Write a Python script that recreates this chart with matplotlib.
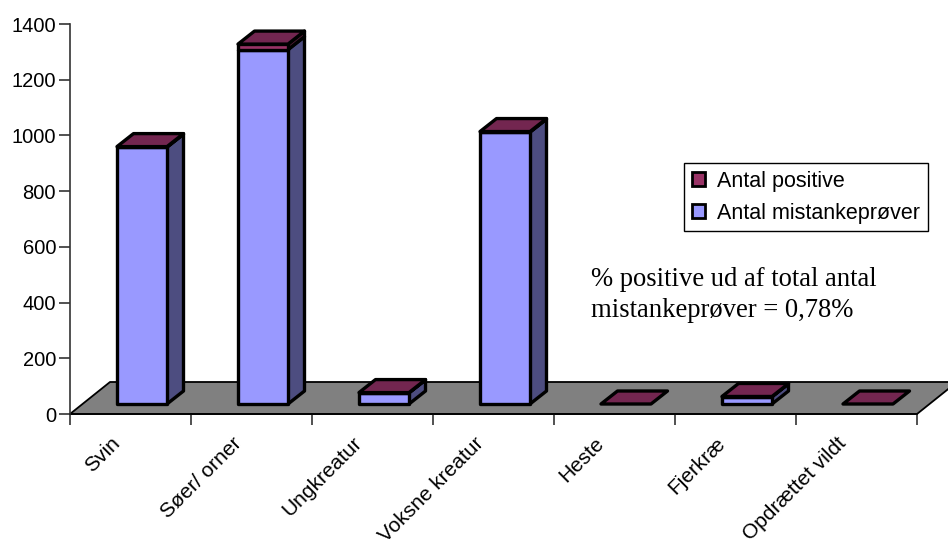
import matplotlib
matplotlib.use("Agg")
import matplotlib.pyplot as plt
from matplotlib.patches import Polygon, Patch

# Data
kategorier = ["Svin", "Søer/ orner", "Ungkreatur", "Voksne kreatur", "Heste", "Fjerkræ", "Opdrættet vildt"]
mistanke = [922, 1272, 40, 976, 0, 26, 0]
positive = [2, 20, 1, 2, 0, 1, 0]
y_ticks = [0, 200, 400, 600, 800, 1000, 1200, 1400]

W, H = 948, 539
plt.rcParams['font.family'] = ['Liberation Sans', 'DejaVu Sans']

fig = plt.figure(figsize=(W / 100, H / 100), dpi=100)
ax = fig.add_axes([70 / W, 1 - 414 / H, 847 / W, 390 / H])
ax.set_xlim(0, 7)
ax.set_ylim(0, 1400)

# pseudo-3D offsets, in data units
px_x = 7 / 847
px_y = 1400 / 390
floor_dx, floor_dy = 40 * px_x, 32 * px_y
bar_dx, bar_dy = 16.5 * px_x, 13 * px_y
bar_left = 47 * px_x
bar_w = 50 * px_x
base = 10 * px_y

LIGHT, LIGHT_SIDE = "#9999ff", "#4d4d80"
DARK, DARK_TOP, DARK_SIDE = "#993366", "#732650", "#4d1a33"


def poly(pts, color, lw=2.4, edge="black", z=3):
    ax.add_patch(Polygon(pts, closed=True, facecolor=color, edgecolor=edge, linewidth=lw,
                         joinstyle="round", clip_on=False, zorder=z))


# floor
poly([(0, 0), (7, 0), (7 + floor_dx, floor_dy), (floor_dx, floor_dy)], "#808080", lw=1.3, z=1)


def box(x0, y0, y1, front, side):
    x1 = x0 + bar_w
    poly([(x1, y0), (x1 + bar_dx, y0 + bar_dy), (x1 + bar_dx, y1 + bar_dy), (x1, y1)], side)
    poly([(x0, y0), (x1, y0), (x1, y1), (x0, y1)], front)


for i, (m, p) in enumerate(zip(mistanke, positive)):
    x0 = i + bar_left
    if m > 0:
        box(x0, base, base + m, LIGHT, LIGHT_SIDE)
    top = base + m + p
    if p > 0:
        box(x0, base + m, top, DARK, DARK_SIDE)
    poly([(x0, top), (x0 + bar_w, top), (x0 + bar_w + bar_dx, top + bar_dy), (x0 + bar_dx, top + bar_dy)], DARK_TOP)

# axes
for s in ["top", "right"]:
    ax.spines[s].set_visible(False)
ax.spines["left"].set_color("#333333")
ax.spines["left"].set_linewidth(1.2)
ax.spines["bottom"].set_color("black")
ax.spines["bottom"].set_linewidth(1.2)
ax.spines["bottom"].set_zorder(2)
ax.patch.set_alpha(0)

ax.set_yticks(y_ticks)
ax.tick_params(axis="y", labelsize=14.5, length=8, width=1.2, color="#333333", pad=2)
ax.set_xticks(range(8))
ax.set_xticklabels([])
ax.tick_params(axis="x", which="major", length=8, width=1.2, color="#333333")
ax.set_xticks([i + 0.335 for i in range(7)], minor=True)
ax.set_xticklabels(kategorier, minor=True, rotation=45, ha="right", va="top",
                   rotation_mode="anchor", fontsize=15)
ax.tick_params(axis="x", which="minor", length=0, pad=14)

# legend
handles = [Patch(facecolor=DARK, edgecolor="black", linewidth=2.0, label="Antal positive"),
           Patch(facecolor=LIGHT, edgecolor="black", linewidth=2.0, label="Antal mistankeprøver")]
leg = fig.legend(handles=handles, loc="upper left", bbox_to_anchor=(684 / W, 1 - 163 / H),
                 fontsize=15.5, frameon=True, fancybox=False, framealpha=1, edgecolor="black",
                 handlelength=0.62, handleheight=0.62, handletextpad=0.55, labelspacing=0.5,
                 borderpad=0.36, borderaxespad=0)
leg.get_frame().set_linewidth(1.0)

# note
fig.text(591 / W, 1 - 295 / H, "% positive ud af total antal\nmistankeprøver = 0,78%",
         fontsize=19.2, family=["Liberation Serif", "DejaVu Serif"], va="center", ha="left", linespacing=1.35)

fig.savefig("out.png", dpi=100)
